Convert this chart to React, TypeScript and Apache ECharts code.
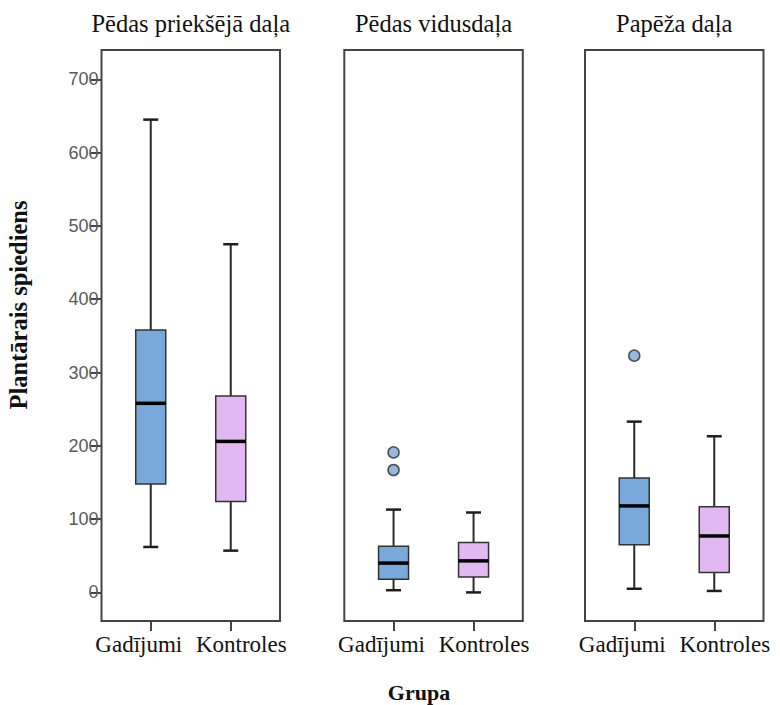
import React, { useEffect, useRef } from 'react';
import * as echarts from 'echarts';

const panelTitles = ['Pēdas priekšējā daļa', 'Pēdas vidusdaļa', 'Papēža daļa'];
const categories = ['Gadījumi', 'Kontroles'];
// [min, Q1, median, Q3, max] per group
const forefootBoxes = [
  [62, 148, 258, 358, 645],
  [57, 124, 206, 268, 475],
];
const midfootBoxes = [
  [3, 18, 40, 63, 113],
  [0, 21, 43, 68, 109],
];
const heelBoxes = [
  [5, 65, 118, 156, 233],
  [2, 27, 77, 117, 213],
];
// [group index, value]
const forefootOutliers: number[][] = [];
const midfootOutliers = [
  [0, 191],
  [0, 167],
];
const heelOutliers = [[0, 323]];
const yTicks = [0, 100, 200, 300, 400, 500, 600, 700];
const yAxisTitle = 'Plantārais spiediens';
const xAxisTitle = 'Grupa';

const boxColors = ['#79A8DA', '#E2B8F2'];
const SERIF = 'serif';
const SANS = 'sans-serif';

const frameLefts = [101.5, 344.3, 585];
const frameW = 178.5;
const frameTop = 50;
const frameBottom = 621;
const inset = 9.25;
const yMin = -39;
const yMax = 740;

const panelBoxes = [forefootBoxes, midfootBoxes, heelBoxes];
const panelOutliers = [forefootOutliers, midfootOutliers, heelOutliers];

const renderBox = (params: any, api: any) => {
  const idx = api.value(0);
  const pMin = api.coord([idx, api.value(1)]);
  const pQ1 = api.coord([idx, api.value(2)]);
  const pMed = api.coord([idx, api.value(3)]);
  const pQ3 = api.coord([idx, api.value(4)]);
  const pMax = api.coord([idx, api.value(5)]);
  const cx = pMin[0];
  const half = 15;
  const capHalf = 7.5;
  const fill = boxColors[idx % boxColors.length];
  const whisker = { stroke: '#2b2b2b', lineWidth: 2 };
  const cap = { stroke: '#1e1e1e', lineWidth: 2.5 };
  return {
    type: 'group',
    children: [
      { type: 'line', shape: { x1: cx, y1: pMax[1], x2: cx, y2: pQ3[1] }, style: whisker },
      { type: 'line', shape: { x1: cx, y1: pQ1[1], x2: cx, y2: pMin[1] }, style: whisker },
      { type: 'line', shape: { x1: cx - capHalf, y1: pMax[1], x2: cx + capHalf, y2: pMax[1] }, style: cap },
      { type: 'line', shape: { x1: cx - capHalf, y1: pMin[1], x2: cx + capHalf, y2: pMin[1] }, style: cap },
      {
        type: 'rect',
        shape: { x: cx - half, y: pQ3[1], width: half * 2, height: pQ1[1] - pQ3[1] },
        style: { fill, stroke: '#333333', lineWidth: 1.5 },
      },
      {
        type: 'line',
        shape: { x1: cx - half, y1: pMed[1], x2: cx + half, y2: pMed[1] },
        style: { stroke: '#000000', lineWidth: 3.5 },
      },
    ],
  };
};

export default function App() {
  const ref = useRef<HTMLDivElement>(null);

  useEffect(() => {
    if (!ref.current) return;
    const chart = echarts.init(ref.current, undefined, { renderer: 'svg' });

    const grids = frameLefts.map((L) => ({
      left: L + inset,
      top: frameTop,
      width: frameW - 2 * inset,
      height: frameBottom - frameTop,
    }));

    const catLabelStyle = { fontFamily: SERIF, fontSize: 23, color: '#111' };
    const xAxes = frameLefts.map((_, i) => ({
      type: 'category',
      gridIndex: i,
      data: categories,
      boundaryGap: true,
      position: 'bottom',
      axisLine: { show: false, onZero: false },
      axisTick: { show: true, alignWithLabel: true, length: 10, lineStyle: { color: '#444', width: 2 } },
      axisLabel: {
        ...catLabelStyle,
        margin: 12,
        interval: 0,
        formatter: (v: string, idx: number) => (idx === 0 ? `{a|${v}}` : `{b|${v}}`),
        rich: {
          a: { ...catLabelStyle, padding: [0, 24, 0, 0] },
          b: { ...catLabelStyle, padding: [0, 0, 0, 21] },
        },
      },
      splitLine: { show: false },
    }));

    const yAxes = frameLefts.map((_, i) => ({
      type: 'value',
      gridIndex: i,
      min: yMin,
      max: yMax,
      show: i === 0,
      offset: inset,
      axisLine: { show: false, onZero: false },
      axisTick: {
        show: i === 0,
        length: 11,
        lineStyle: { color: '#444', width: 2 },
        customValues: yTicks,
      },
      axisLabel: {
        show: i === 0,
        fontFamily: SANS,
        fontSize: 18,
        color: '#595959',
        margin: 3,
        customValues: yTicks,
      },
      splitLine: { show: false },
    }));

    const series: any[] = [];
    panelBoxes.forEach((boxes, i) => {
      series.push({
        type: 'custom',
        xAxisIndex: i,
        yAxisIndex: i,
        renderItem: renderBox,
        encode: { x: 0, y: [1, 2, 3, 4, 5] },
        data: boxes.map((b, k) => [k, ...b]),
        z: 3,
      });
      if (panelOutliers[i].length) {
        series.push({
          type: 'scatter',
          xAxisIndex: i,
          yAxisIndex: i,
          data: panelOutliers[i],
          symbol: 'circle',
          symbolSize: 11,
          itemStyle: { color: boxColors[0], borderColor: '#2b2b2b', borderWidth: 1.5 },
          z: 4,
        });
      }
    });

    const graphics: any[] = [];
    frameLefts.forEach((L, i) => {
      graphics.push({
        type: 'rect',
        shape: { x: L, y: frameTop, width: frameW, height: frameBottom - frameTop },
        style: { fill: 'none', stroke: '#444', lineWidth: 2 },
        z: 10,
        silent: true,
      });
      graphics.push({
        type: 'text',
        x: L + frameW / 2,
        y: 23,
        style: {
          text: panelTitles[i],
          fontFamily: SERIF,
          fontSize: 24.5,
          fontWeight: 'normal',
          fill: '#111',
          align: 'center',
          verticalAlign: 'middle',
        },
      });
    });
    graphics.push({
      type: 'text',
      x: 18,
      y: 305,
      rotation: Math.PI / 2,
      style: {
        text: yAxisTitle,
        fontFamily: SERIF,
        fontSize: 24.5,
        fontWeight: 'bold',
        fill: '#111',
        align: 'center',
        verticalAlign: 'middle',
      },
    });
    graphics.push({
      type: 'text',
      x: 419,
      y: 692,
      style: {
        text: xAxisTitle,
        fontFamily: SERIF,
        fontSize: 22,
        fontWeight: 'bold',
        fill: '#111',
        align: 'center',
        verticalAlign: 'middle',
      },
    });

    chart.setOption({
      animation: false,
      backgroundColor: '#ffffff',
      grid: grids,
      xAxis: xAxes,
      yAxis: yAxes,
      series,
      graphic: graphics,
    });

    return () => chart.dispose();
  }, []);

  return (
    <div
      ref={ref}
      style={{ position: 'fixed', left: 0, top: 0, width: 780, height: 705 }}
    />
  );
}
